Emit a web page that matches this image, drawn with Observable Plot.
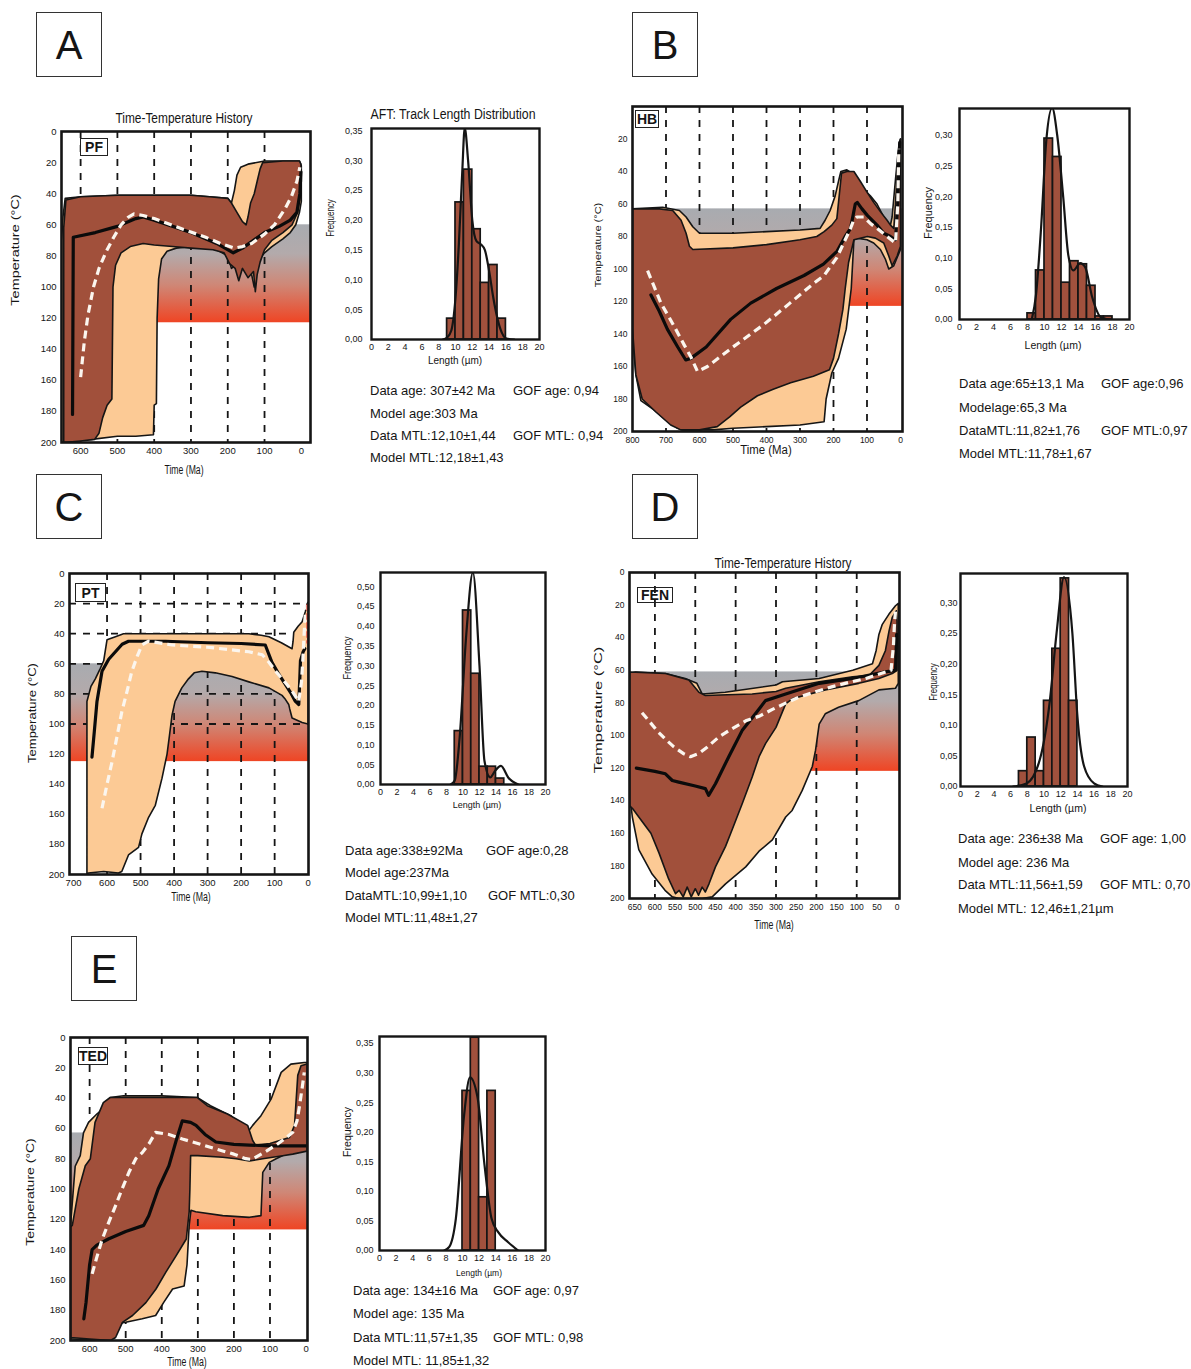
<!DOCTYPE html>
<html><head><meta charset="utf-8">
<script src="https://cdn.jsdelivr.net/npm/d3@7"></script>
<script src="https://cdn.jsdelivr.net/npm/@observablehq/plot@0.6"></script>
<style>
body{margin:0;background:#fff;}
#root{position:relative;width:1191px;height:1369px;overflow:hidden;font-family:"Liberation Sans",Arial,sans-serif;color:#151515;background:#fff;}
.abs{position:absolute;}
.lbl{position:absolute;white-space:nowrap;line-height:1;}
.letter{position:absolute;border:1.5px solid #333;box-sizing:border-box;display:flex;align-items:center;justify-content:center;font-size:40px;line-height:1;}
.code{position:absolute;border:1.5px solid #222;box-sizing:border-box;font-weight:bold;font-size:14px;display:flex;align-items:center;justify-content:center;background:#fff;line-height:1;}
.stat{position:absolute;white-space:nowrap;font-size:13px;line-height:1;transform:translateY(-50%);}
svg{overflow:visible;}
</style></head><body><div id="root"></div><script>
// ---------------- DATA ----------------
// Time-temperature envelopes: [time (Ma), temperature (°C)] vertices
const accA = [[652,200],[652,70],[648,55],[642,43],[600,42],[500,41],[400,41],[300,41],[250,42],[200,43],[190,46],[182,38],[175,28],[165,23],[145,21],[100,19],[50,19],[5,19],[0,22],[0,45],[5,52],[15,60],[30,65],[50,69],[80,74],[100,78],[120,84],[128,100],[135,92],[150,88],[170,84],[190,88],[200,80],[230,76],[300,74],[340,75],[365,77],[380,82],[388,95],[392,120],[394,175],[400,176],[402,195],[450,196],[500,196],[570,198],[600,198]];
const goodA = [[646,200],[646,62],[640,44],[600,42],[500,41],[400,41],[300,41],[250,42],[200,43],[190,46],[175,52],[160,58],[150,60],[145,55],[138,46],[128,40],[120,32],[112,24],[105,20],[50,19],[5,19],[1,21],[0,32],[3,42],[10,52],[25,60],[50,65],[80,70],[100,76],[112,84],[120,92],[125,103],[130,90],[145,94],[160,88],[170,96],[180,88],[195,85],[210,78],[240,76],[300,75],[350,74],[400,73],[430,72],[465,74],[490,78],[505,86],[512,100],[515,172],[528,176],[540,184],[550,194],[562,198],[600,199]];
const bestA = [[622,182],[620,68],[560,65],[500,61],[450,56],[430,55],[400,57],[300,65],[230,72],[185,78],[160,75],[130,70],[100,65],[60,61],[30,57],[12,52],[4,40],[1,26]];
const meanA = [[600,158],[590,135],[580,118],[565,100],[550,88],[530,77],[510,68],[490,60],[470,55],[455,53],[430,54],[400,56],[320,63],[260,68],[220,72],[182,75],[160,74],[135,72],[100,66],[73,60],[45,50],[27,42],[12,32],[4,23]];

const accB = [[800,63],[710,62],[660,64],[640,68],[620,74],[600,78],[500,78],[400,77],[300,76],[240,75],[225,70],[210,64],[195,55],[185,46],[178,40],[160,39],[145,41],[130,46],[110,51],[90,55],[70,60],[55,66],[40,72],[32,75],[25,68],[15,45],[8,30],[3,22],[0,20],[0,88],[8,92],[20,98],[35,100],[45,94],[60,88],[80,84],[100,82],[130,81],[139,82],[147,112],[162,137],[185,155],[205,164],[222,180],[228,194],[300,196],[400,197],[500,198],[560,199],[650,199],[665,198],[700,193],[740,186],[775,181],[790,165],[800,140]];
const goodB = [[800,63],[720,63],[680,64],[655,70],[640,78],[630,86],[620,88],[500,87],[400,85],[300,82],[250,80],[228,77],[205,73],[190,69],[183,55],[176,41],[160,40],[139,40],[120,46],[99,53],[80,59],[59,65],[40,70],[30,73],[20,75],[12,50],[5,24],[0,20],[0,86],[10,92],[25,98],[35,92],[50,84],[75,81],[99,80],[139,82],[155,96],[165,112],[172,125],[185,140],[200,155],[212,162],[260,166],[328,170],[380,174],[427,178],[477,185],[510,191],[547,197],[600,199],[656,199],[686,196],[730,188],[771,180],[790,165],[800,137]];
const bestB = [[745,116],[720,126],[696,137],[665,148],[641,156],[626,155],[580,148],[507,131],[447,121],[370,112],[288,104],[230,97],[189,89],[165,80],[149,75],[135,60],[129,59],[115,63],[99,67],[70,73],[50,78],[30,80],[15,82],[8,60],[5,34],[2,22]];
const meanB = [[755,101],[735,111],[715,121],[690,130],[671,137],[645,147],[626,154],[606,163],[576,160],[500,148],[407,134],[330,121],[260,109],[228,104],[190,93],[149,75],[140,70],[130,68],[109,68],[90,72],[70,75],[40,80],[15,84],[8,60],[5,26]];

const accC = [[660,200],[660,85],[648,75],[635,70],[620,63],[610,58],[600,44],[575,42],[551,40],[400,40],[300,40],[177,40],[140,41],[117,42],[80,46],[48,50],[45,45],[43,39],[30,35],[18,32],[8,25],[3,20],[0,19],[0,100],[18,99],[48,96],[55,90],[58,87],[70,83],[78,81],[117,76],[177,72],[227,68.5],[277,66],[317,65],[340,66],[357,70],[377,76],[397,85],[406,94],[414,108],[421,120],[436,136],[456,154],[476,162],[496,173],[506,182],[536,187],[556,198],[566,199],[610,198],[656,199]];
const goodC = [];
const bestC = [[645,122],[638,105],[630,85],[615,65],[595,57],[575,52],[555,47],[536,45],[426,45],[300,46],[200,46.5],[128,47.5],[115,55],[108,59],[90,66],[70,73],[50,80],[38,85],[28,87],[25,70],[23,58],[15,52],[10,50]];
const meanC = [[615,156],[600,140],[585,125],[570,108],[556,92],[540,78],[526,65],[510,55],[496,47.5],[476,45],[406,47.5],[300,49],[177,52],[137,54],[117,59],[97,65],[70,72],[48,78],[28,85],[20,72],[16,58],[12,40],[8,25],[3,21]];
const extraC = [[1.5,21],[1.5,46]];

const accD = [[663,62],[648,61],[574,62],[525,65],[496,68],[483,74.5],[426,73.5],[300,69],[284,67],[193,65],[110,60],[61,56],[52,48],[45,38],[37,32],[20,25.5],[4,20.4],[-3,19],[-3,68],[4,71],[45,72],[95,78.6],[145,82.7],[178,86.7],[193,93],[202,109],[210,119],[235,133.7],[260,146],[276,150],[309,164],[342,171],[375,180.6],[425,191],[458,199],[483,200],[541,200],[557,199],[575,195],[607,185],[640,170],[656,150],[663,135]];
const goodD = [[663,61],[574,62],[516,66],[491,73.5],[475,75.5],[420,75],[359,74.5],[300,73],[276,71],[193,67],[110,64],[69,63],[45,57],[29,48],[20,36],[12,27.5],[2,23.5],[0,30],[0,60],[12,62],[45,65],[95,68],[178,72],[260,77.5],[276,80.6],[300,95],[326,105],[342,113],[359,125.5],[384,142],[409,158],[425,168],[450,180.6],[466,191],[475,196],[483,193],[492,198],[500,194],[510,199],[520,193],[530,199],[540,195],[549,197],[566,188],[590,172],[610,160],[640,150],[655,145],[663,143]];
const bestD = [[646,120],[600,122],[574,123.5],[557,127.6],[541,128.6],[500,131],[475,132.6],[467,136.7],[450,129.6],[417,113],[384,97],[351,86.7],[326,78.6],[276,74.5],[193,68],[110,65],[29,61],[4,60],[1,38]];
const meanD = [[632,86],[615,91],[595,97],[575,102],[553,107],[530,111],[512,113],[491,111],[470,107],[442,101],[410,96],[375,91],[340,88],[309,84],[275,80],[243,76.5],[200,73],[160,70],[120,67.5],[77,65],[40,62],[15,60],[9,45],[7,34],[4,24]];

const accE = [[653,124],[640,85],[626,78],[617,63],[603,56],[580,50.5],[552,45],[543,39.6],[506,38.5],[400,38.5],[302,39.6],[265,45],[209,51.6],[162,62.6],[148,58],[125,51.6],[97,40.7],[69,23],[42,17.6],[5,16.5],[-3,16.5],[-3,73.6],[46,75.8],[83,80],[102,82.4],[120,89],[125,117.6],[157,118.7],[231,117.6],[306,115],[319,114],[324,124],[330,150],[338,164],[370,166],[395,175],[417,183.5],[454,185.7],[500,188],[528,189],[546,196.7],[560,200],[648,199],[653,199]];
const goodE = [[653,198],[653,125],[648,124],[630,100],[612,84.6],[598,80],[585,56],[562,43],[543,39.6],[400,39.6],[302,39.6],[274,45],[218,50.5],[162,58],[148,68],[140,71],[100,70],[46,66],[32,58],[23,25],[14,18.7],[0,17.6],[-3,17.6],[-3,75],[37,77],[65,78],[120,80],[157,81.5],[194,80],[231,79],[300,78],[320,78],[322,100],[324,115],[332,133],[360,144],[389,155],[416,166],[444,175],[481,183.5],[509,188],[528,198],[542,200],[600,199]];
const bestE = [[616,185.7],[610,175],[600,150],[593,140],[580,137],[548,133],[500,128],[450,124],[436,117.6],[410,100],[380,84.6],[360,68],[343,55],[320,56],[305,58],[280,64],[250,69],[200,70.5],[157,71],[100,71.5],[0,71.5]];
const meanE = [[593,156],[580,145],[565,133],[547,122],[528,111],[510,100],[491,89],[472,80],[454,76],[435,70],[417,62.6],[380,64],[343,67],[300,70],[250,73.6],[200,77],[167,80],[150,80.5],[139,79],[110,75],[83,71],[60,67],[37,62.6],[25,55],[18,45],[10,32],[5,23]];

// partial annealing zone band [top °C, bottom °C]
const bandA = [60,123], bandB = [63,123], bandC = [60,125], bandD = [61,122], bandE = [63,127];
// time ticks and dashed time lines
const timeTicksA = [600,500,400,300,200,100,0];
const timeTicksB = [800,700,600,500,400,300,200,100,0];
const timeTicksC = [700,600,500,400,300,200,100,0];
const timeTicksD = [650,600,550,500,450,400,350,300,250,200,150,100,50,0];
const timeTicksE = [600,500,400,300,200,100,0];
const timeLinesA = [600,500,400,300,200,100];
const timeLinesB = [700,600,500,400,300,200,100];
const timeLinesC = [600,500,400,300,200,100];
const timeLinesD = [600,500,400,300,200,100];
const timeLinesE = [600,500,400,300,200,100];
const tempLinesC = [20,40,60,80,100];
const tempTicks = [0,20,40,60,80,100,120,140,160,180,200];
const tempTicksB = [20,40,60,80,100,120,140,160,180,200];

// Track length histograms (bin start µm, frequency) and model curves
const binsA = [9,10,11,12,13,14,15], freqA = [0.035,0.23,0.285,0.185,0.095,0.125,0.035];
const binsB = [8,9,10,11,12,13,14,15,16,17], freqB = [0.01,0.08,0.295,0.265,0.06,0.095,0.09,0.055,0.005,0.005];
const binsC = [9,10,11,12,13,14], freqC = [0.135,0.44,0.28,0.045,0.045,0.015];
const binsD = [7,8,9,10,11,12,13], freqD = [0.025,0.08,0.025,0.14,0.225,0.34,0.14];
const binsE = [10,11,12,13], freqE = [0.27,0.36,0.09,0.27];
const curveA = [[8.5,0],[9,0.003],[9.5,0.015],[10,0.07],[10.4,0.16],[10.8,0.28],[11.1,0.355],[11.5,0.3],[12,0.2],[12.5,0.165],[13,0.16],[13.5,0.15],[14,0.115],[14.5,0.07],[15,0.035],[15.5,0.012],[16,0.002],[17,0]];
const curveB = [[8.5,0],[9,0.04],[9.6,0.15],[10.2,0.29],[10.9,0.345],[11.5,0.3],[12.2,0.2],[12.8,0.105],[13.4,0.08],[14.2,0.092],[14.8,0.085],[15.6,0.037],[16.6,0.004],[17.5,0]];
const curveC = [[8.5,0],[9,0.01],[9.6,0.12],[10.4,0.38],[11.2,0.536],[12,0.3],[12.6,0.06],[13.3,0.018],[13.9,0.035],[14.6,0.047],[15.5,0.017],[16.7,0]];
const curveD = [[6.3,0],[7.9,0.005],[9.5,0.044],[10.7,0.14],[11.5,0.25],[12.4,0.342],[13.4,0.25],[14,0.115],[14.8,0.033],[16,0.005],[17,0]];
const curveE = [[7.8,0],[8.4,0.006],[9.2,0.054],[10.2,0.23],[10.9,0.293],[11.8,0.26],[12.65,0.145],[13.5,0.054],[14.3,0.031],[15.5,0.014],[16.7,0]];
const lengthTicks = [0,2,4,6,8,10,12,14,16,18,20];
const freqTicks = [0,0.05,0.10,0.15,0.20,0.25,0.30,0.35,0.40,0.45,0.50];

// Labels
const panelLetters = ["A","B","C","D","E"];
const sampleCodes = ["PF","HB","PT","FEN","TED"];
const statsA = ["Data age: 307±42 Ma","Model age:303 Ma","Data MTL:12,10±1,44","Model MTL:12,18±1,43"], gofA = ["GOF age: 0,94","GOF MTL: 0,94"];
const statsB = ["Data age:65±13,1 Ma","Modelage:65,3 Ma","DataMTL:11,82±1,76","Model MTL:11,78±1,67"], gofB = ["GOF age:0,96","GOF MTL:0,97"];
const statsC = ["Data age:338±92Ma","Model age:237Ma","DataMTL:10,99±1,10","Model MTL:11,48±1,27"], gofC = ["GOF age:0,28","GOF MTL:0,30"];
const statsD = ["Data age: 236±38 Ma","Model age: 236 Ma","Data MTL:11,56±1,59","Model MTL: 12,46±1,21µm"], gofD = ["GOF age: 1,00","GOF MTL: 0,70"];
const statsE = ["Data age: 134±16 Ma","Model age: 135 Ma","Data MTL:11,57±1,35","Model MTL: 11,85±1,32"], gofE = ["GOF age: 0,97","GOF MTL: 0,98"];

// ---------------- STYLE / LAYOUT ----------------
const DARK = "#a1503b", LIGHT = "#fcca95", BAR = "#a1513d", INK = "#151515";
const root = document.getElementById("root");
const FONT = '"Liberation Sans", Arial, sans-serif';

function place(node, left, top) {
  const d = document.createElement("div");
  d.className = "abs"; d.style.left = left + "px"; d.style.top = top + "px";
  d.appendChild(node); root.appendChild(d); return d;
}
function label(str, cx, cy, size, o = {}) {
  const d = document.createElement("div");
  d.className = "lbl"; d.textContent = str;
  d.style.left = cx + "px"; d.style.top = cy + "px"; d.style.fontSize = size + "px";
  d.style.transform = `translate(-50%,-50%) ${o.rot ? "rotate(-90deg)" : ""} scale(${o.sx || 1},${o.sy || 1})`;
  root.appendChild(d);
}
function gradientMark(id) {
  return () => {
    const defs = d3.create("svg:defs");
    const g = defs.append("linearGradient").attr("id", id).attr("x1", 0).attr("y1", 0).attr("x2", 0).attr("y2", 1);
    [[0, "#a8abb0"], [0.3, "#b3aaab"], [0.62, "#cf8776"], [1, "#ef4524"]]
      .forEach(([o, c]) => g.append("stop").attr("offset", o).attr("stop-color", c));
    return defs.node();
  };
}
const closed = a => a.length ? a.concat([a[0]]) : a;

function ttPlot(id, frame, xdom, d) {
  const [x0, y0, x1, y1] = frame;
  const mL = 34, mR = 6, mT = 6, mB = 22;
  const gid = "paz" + id;
  const bandRow = [{t1: xdom[0], t2: xdom[1], T1: d.band[0], T2: d.band[1]}];
  const marks = [
    gradientMark(gid),
    Plot.rect(bandRow, {x1: r => r.t1, x2: r => r.t2, y1: r => r.T1, y2: r => r.T2, fill: `url(#${gid})`}),
    Plot.ruleX(d.vlines, {x: v => v, stroke: INK, strokeWidth: 1.8, strokeDasharray: "7,7"}),
  ];
  if (d.hlines) marks.push(Plot.ruleY(d.hlines, {y: v => v, stroke: INK, strokeWidth: 1.8, strokeDasharray: "7,7"}));
  marks.push(
    Plot.line(closed(d.acc), {x: p => p[0], y: p => p[1], fill: LIGHT, stroke: INK, strokeWidth: 1.6, clip: true}),
    Plot.line(closed(d.good), {x: p => p[0], y: p => p[1], fill: DARK, stroke: INK, strokeWidth: 1.6, clip: true}),
    Plot.line(d.best, {x: p => p[0], y: p => p[1], stroke: "#0b0b0b", strokeWidth: 3.2, clip: true}),
    Plot.line(d.mean, {x: p => p[0], y: p => p[1], stroke: "#fbf6ef", strokeWidth: 3.2, strokeDasharray: "8,5", strokeLinecap: "butt", clip: true})
  );
  if (d.extra) marks.push(Plot.line(d.extra, {x: p => p[0], y: p => p[1], stroke: "#e0352a", strokeWidth: 2.5, strokeDasharray: "5,4"}));
  marks.push(Plot.frame({stroke: INK, strokeWidth: 2.6}));
  const svg = Plot.plot({
    width: x1 - x0 + mL + mR, height: y1 - y0 + mT + mB,
    marginLeft: mL, marginRight: mR, marginTop: mT, marginBottom: mB,
    style: {fontFamily: FONT, fontSize: (d.fs || 9.5) + "px", background: "transparent", color: INK, overflow: "visible"},
    x: {domain: xdom, ticks: d.xticks, tickSize: 0, tickPadding: 5, label: null, tickFormat: v => String(v)},
    y: {domain: [0, 200], reverse: true, ticks: d.yticks, tickSize: 0, tickPadding: 5, label: null, tickFormat: v => String(v)},
    marks
  });
  const wrap = place(svg, x0 - mL, y0 - mT);
  wrap.style.width = (x1 - x0 + mL + mR) + "px";
}

function histPlot(frame, top, pad, bins, freq, curve, xdomain) {
  const [x0, y0, x1, y1] = frame;
  const mL = 32, mR = 8, mT = 6, mB = 18;
  const data = bins.map((b, i) => ({b, f: freq[i]}));
  const svg = Plot.plot({
    width: x1 - x0 + mL + mR, height: y1 - y0 + mT + mB,
    marginLeft: mL, marginRight: mR, marginTop: mT, marginBottom: mB,
    style: {fontFamily: FONT, fontSize: "9px", background: "transparent", color: INK, overflow: "visible"},
    x: {domain: xdomain || [0, 20], ticks: lengthTicks, tickSize: 0, tickPadding: 4, label: null, tickFormat: v => String(v)},
    y: {domain: [0, top], ticks: freqTicks.filter(t => t <= top + 1e-9), tickSize: 0, tickPadding: pad, label: null,
        tickFormat: v => v.toFixed(2).replace(".", ",")},
    marks: [
      Plot.rect(data, {x1: r => r.b, x2: r => r.b + 1, y1: () => 0, y2: r => r.f, fill: BAR, stroke: INK, strokeWidth: 1.7, clip: true}),
      Plot.line(curve, {x: p => p[0], y: p => p[1], curve: "monotone-x", stroke: INK, strokeWidth: 2.2, clip: true}),
      Plot.frame({stroke: INK, strokeWidth: 2.4})
    ]
  });
  const wrap = place(svg, x0 - mL, y0 - mT);
  wrap.style.width = (x1 - x0 + mL + mR) + "px";
}

function stats(lines, gof, x, xg, ys) {
  lines.forEach((s, i) => {
    const d = document.createElement("div"); d.className = "stat"; d.textContent = s;
    d.style.left = x + "px"; d.style.top = ys[i] + "px"; root.appendChild(d);
  });
  gof.forEach((s, i) => {
    const d = document.createElement("div"); d.className = "stat"; d.textContent = s;
    d.style.left = (Array.isArray(xg) ? xg[i] : xg) + "px"; d.style.top = ys[i * 2] + "px"; root.appendChild(d);
  });
}
function letterBox(t, l, tp) {
  const d = document.createElement("div"); d.className = "letter"; d.textContent = t;
  d.style.left = l + "px"; d.style.top = tp + "px"; d.style.width = "66px"; d.style.height = "65px";
  root.appendChild(d);
}
function codeBox(t, l, tp, w, h, transparent) {
  const d = document.createElement("div"); d.className = "code"; d.textContent = t;
  d.style.left = l + "px"; d.style.top = tp + "px"; d.style.width = w + "px"; d.style.height = h + "px";
  if (transparent) d.style.background = "transparent";
  root.appendChild(d);
}

// ---------------- PANELS ----------------
// A
ttPlot("A", [61,131,310,442], [652,-25], {acc: accA, good: goodA, best: bestA, mean: meanA, band: bandA, vlines: timeLinesA, xticks: timeTicksA, yticks: tempTicks});
histPlot([371,128,539,339], 0.354, 9, binsA, freqA, curveA);
// B
ttPlot("B", [632,106,902,431], [800,-6], {acc: accB, good: goodB, best: bestB, mean: meanB, band: bandB, vlines: timeLinesB, xticks: timeTicksB, yticks: tempTicksB, fs: 8.5});
histPlot([959,108,1129,319], 0.344, 7, binsB, freqB, curveB);
// C
ttPlot("C", [69,573,308,874], [712,-1], {acc: accC, good: goodC, best: bestC, mean: meanC, band: bandC, vlines: timeLinesC, hlines: tempLinesC, extra: extraC, xticks: timeTicksC, yticks: tempTicks});
histPlot([380,572,545,784], 0.536, 6, binsC, freqC, curveC);
// D
ttPlot("D", [629,572,899,898], [663,-6], {acc: accD, good: goodD, best: bestD, mean: meanD, band: bandD, vlines: timeLinesD, xticks: timeTicksD, yticks: tempTicks, fs: 8.5});
histPlot([960,573,1127,786], 0.348, 3, binsD, freqD, curveD);
// E
ttPlot("E", [70,1037,307,1340], [653,-4], {acc: accE, good: goodE, best: bestE, mean: meanE, band: bandE, vlines: timeLinesE, xticks: timeTicksE, yticks: tempTicks});
histPlot([379,1036,545,1250], 0.362, 6, binsE, freqE, curveE);

// letters and sample codes
letterBox(panelLetters[0], 36, 12);
letterBox(panelLetters[1], 632, 12);
letterBox(panelLetters[2], 36, 474);
letterBox(panelLetters[3], 632, 474);
letterBox(panelLetters[4], 71, 936);
codeBox(sampleCodes[0], 80, 138, 28, 18);
codeBox(sampleCodes[1], 635, 110, 24, 18);
codeBox(sampleCodes[2], 75, 583, 31, 19);
codeBox(sampleCodes[3], 637, 587, 36, 16, true);
codeBox(sampleCodes[4], 78, 1047, 30, 18);

// titles
label("Time-Temperature History", 184, 118, 14, {sx: 0.85});
label("AFT: Track Length Distribution", 453, 114, 14, {sx: 0.88});
label("Time-Temperature History", 783, 563, 14, {sx: 0.85});

// axis titles: T-t
label("Temperature (°C)", 15, 250, 14.5, {rot: true, sy: 0.75});
label("Time (Ma)", 184, 470, 12, {sx: 0.72});
label("Temperature (°C)", 598, 245, 11, {rot: true, sy: 0.8});
label("Time (Ma)", 766, 450, 12, {sx: 0.95});
label("Temperature (°C)", 32, 713, 13, {rot: true, sy: 0.8});
label("Time (Ma)", 191, 897, 12, {sx: 0.73});
label("Temperature (°C)", 598, 710, 16.5, {rot: true, sy: 0.65});
label("Time (Ma)", 774, 925, 12, {sx: 0.73});
label("Temperature (°C)", 30, 1192, 14, {rot: true, sy: 0.75});
label("Time (Ma)", 187, 1362, 12, {sx: 0.73});
// axis titles: histograms
label("Frequency", 330, 218, 11, {rot: true, sx: 0.72});
label("Length (µm)", 455, 361, 10);
label("Frequency", 928, 213, 11, {rot: true});
label("Length (µm)", 1053, 345, 10.5);
label("Frequency", 347, 658, 11, {rot: true, sx: 0.83});
label("Length (µm)", 477, 805, 9);
label("Frequency", 933, 682, 11, {rot: true, sx: 0.72});
label("Length (µm)", 1058, 808, 10.5);
label("Frequency", 347, 1132, 11, {rot: true, sx: 0.96});
label("Length (µm)", 479, 1273, 8.5);

// statistics
stats(statsA, gofA, 370, 513, [390, 413, 435, 457]);
stats(statsB, gofB, 959, 1101, [383, 407, 430, 453]);
stats(statsC, gofC, 345, [486, 488], [850, 872, 895, 917]);
stats(statsD, gofD, 958, 1100, [838, 862, 884, 908]);
stats(statsE, gofE, 353, 493, [1290, 1313, 1337, 1360]);
</script></body></html>
